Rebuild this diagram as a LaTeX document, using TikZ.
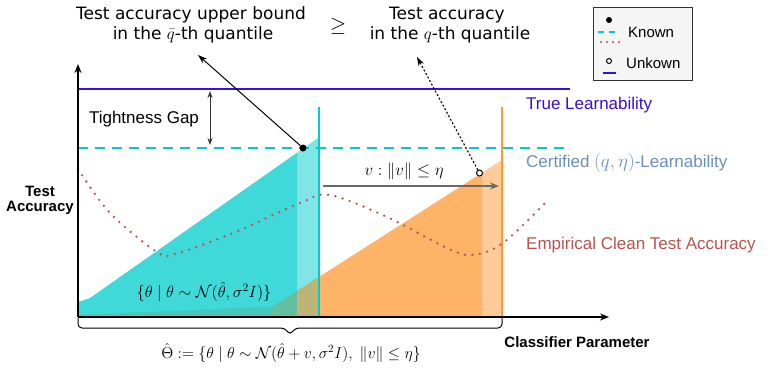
\RequirePackage{fix-cm}
\documentclass[tikz,border=0pt]{standalone}
\usepackage{fontspec}
\usepackage{amsmath}
\setmainfont{Liberation Sans}
\newfontfamily\dvs{DejaVu Sans}
\usetikzlibrary{arrows.meta}
\definecolor{cy}{HTML}{00CCCC}
\definecolor{orng}{HTML}{FF8000}
\definecolor{purp}{HTML}{3A10D6}
\definecolor{cert}{HTML}{6C8EBF}
\definecolor{emp}{HTML}{B85450}
\definecolor{ovA}{RGB}{72,200,188}
\definecolor{ovB}{RGB}{100,190,162}
\definecolor{ovC}{RGB}{190,180,118}
\definecolor{legfill}{RGB}{245,245,245}
\definecolor{gapgray}{RGB}{50,50,50}
\definecolor{vgray}{RGB}{105,105,105}
\tikzset{
  big/.style={font=\fontsize{17}{20}\selectfont},
  topt/.style={font=\dvs\fontsize{17}{20}\selectfont, inner sep=0pt, anchor=base},
  boldlab/.style={font=\bfseries\fontsize{15}{18}\selectfont},
  leglab/.style={font=\fontsize{15}{18}\selectfont, anchor=west, inner sep=0pt},
  mathlab/.style={font=\fontsize{16.3}{20}\selectfont, inner sep=0pt},
  reddots/.style={emp, line width=2.6, line cap=round, dash pattern=on 0pt off 7.5pt},
  cydash/.style={cy, line width=2, dash pattern=on 10pt off 7pt},
}
\begin{document}
\begin{tikzpicture}[x=1pt,y=-1pt]
\useasboundingbox (0,0) rectangle (773,380);
% orange distribution
\fill[orng, fill opacity=0.6] (78,317) -- (78,315) -- (272,307) -- (482,172.8) -- (482,317) -- cycle;
\fill[orng, fill opacity=0.4] (482,172.8) -- (502,160) -- (502,317) -- (482,317) -- cycle;
% cyan distribution
\fill[cy, fill opacity=0.75] (78,317) -- (78,302) -- (90,298) -- (297,152.7) -- (297,317) -- cycle;
\fill[cy, fill opacity=0.5] (297,152.7) -- (318,138) -- (318,317) -- (297,317) -- cycle;
% overlap
\begin{scope}
\clip (78,317) -- (78,315) -- (272,307) -- (502,160) -- (502,317) -- cycle;
\fill[ovA] (78,250) rectangle (272,317);
\fill[ovB] (272,250) rectangle (297,317);
\fill[ovC] (297,250) rectangle (318,317);
\end{scope}
% vertical lines
\draw[cy, line width=2] (319,107) -- (319,317);
\draw[orng!80, line width=2] (502,107) -- (502,317);
% learnability lines
\draw[purp, line width=2.5] (78,89) -- (570,89);
\draw[cydash] (78,148) -- (570,148);
% empirical curve
\draw[reddots] plot[smooth, tension=0.55] coordinates {(78,169) (110,213) (157,252) (175,254) (233,233) (300,203) (330,195) (387,217) (447,248) (472,255) (503,243) (548,200)};
% axes
\coordinate (org) at (78,317);
\coordinate (ytip) at (78,64);
\coordinate (xtip) at (609,317);
\draw[line width=1.2, -{Stealth[length=9pt,width=7pt]}] (org) -- (ytip);
\draw[line width=1.2, -{Stealth[length=9pt,width=7pt]}] (org) -- (xtip);
% brace
\draw[line width=1, rounded corners=4] (78,318) -- (78,328) -- (285,328) -- (290,335) -- (295,328) -- (502,328) -- (502,318);
% gray shift arrow
\coordinate (vs) at (323,186);
\coordinate (ve) at (499,186);
\draw[vgray, line width=1.2, -{Stealth[length=9pt,width=7pt]}] (vs) -- (ve);
\node[mathlab, font=\fontsize{16.8}{20}\selectfont] (vlab) at (404,171) {$v: \|v\| \le \eta$};
% tightness gap
\coordinate (g1) at (210,91);
\coordinate (g2) at (210,145);
\draw[gapgray, line width=1, {Stealth[length=7pt,width=5pt]}-{Stealth[length=7pt,width=5pt]}] (g1) -- (g2);
\node[big] (tg) at (144,119) {Tightness Gap};
% top texts
\node[topt] (ub1) at (191,19) {Test accuracy upper bound};
\node[topt] (ub2) at (193,39) {in the $\bar{q}$-th quantile};
\node[topt, font=\fontsize{21}{24}\selectfont] (ge) at (338,31) {$\geq$};
\node[topt] (ta1) at (447,19) {Test accuracy};
\node[topt] (ta2) at (450,39) {in the $q$-th quantile};
\coordinate (ubtip) at (198,55);
\coordinate (tatip) at (417,57);
% dots
\node[circle, fill=black, inner sep=0pt, minimum size=7pt] (kd) at (303,148) {};
\node[circle, draw=black, fill=white, line width=1, inner sep=0pt, minimum size=6pt] (ud) at (479.5,173) {};
\draw[line width=1, -{Stealth[length=9pt,width=6pt]}] (kd) -- (ubtip);
\draw[line width=1.1, dash pattern=on 2pt off 2pt, -{Stealth[length=9pt,width=6pt]}] (ud) -- (tatip);
% formulas
\node[mathlab] (nset) at (204,292) {$\{\theta \mid \theta \sim \mathcal{N}(\hat{\theta}, \sigma^2 I)\}$};
\node[mathlab, font=\fontsize{15.8}{20}\selectfont] (thset) at (291,353) {$\hat{\Theta} := \{\theta \mid \theta \sim \mathcal{N}(\hat{\theta}+v, \sigma^2 I),\ \|v\| \le \eta\}$};
% right labels
\node[big, purp, anchor=west, inner sep=0pt] (tl) at (526,105) {True Learnability};
\node[big, cert, anchor=west, inner sep=0pt] (cl) at (526,163) {Certified {\fontsize{19}{20}\selectfont$(q,\eta)$}-Learnability};
\node[big, emp, anchor=west, inner sep=0pt] (el) at (526,245) {Empirical Clean Test Accuracy};
% axis labels
\node[boldlab, align=center] (yl) at (40,200) {Test\\[-3pt]Accuracy};
\node[boldlab] (xl) at (577,342) {Classifier Parameter};
% legend
\node[draw={rgb,255:red,50;green,50;blue,50}, fill=legfill, line width=0.8, minimum width=99pt, minimum height=73pt, inner sep=0pt] (leg) at (642.5,43.5) {};
\fill (609,20) circle (3pt);
\draw[cy, line width=2, dash pattern=on 6pt off 5pt] (598,32) -- (619,32);
\draw[emp, line width=2.2, line cap=round, dash pattern=on 0pt off 6pt] (601,42) -- (619,42);
\node[leglab] (kn) at (628,32) {Known};
\draw[line width=1, fill=white] (609,61) circle (2.5pt);
\draw[purp, line width=2] (603,73) -- (616,73);
\node[leglab] (un) at (626,63) {Unkown};
\end{tikzpicture}
\end{document}
